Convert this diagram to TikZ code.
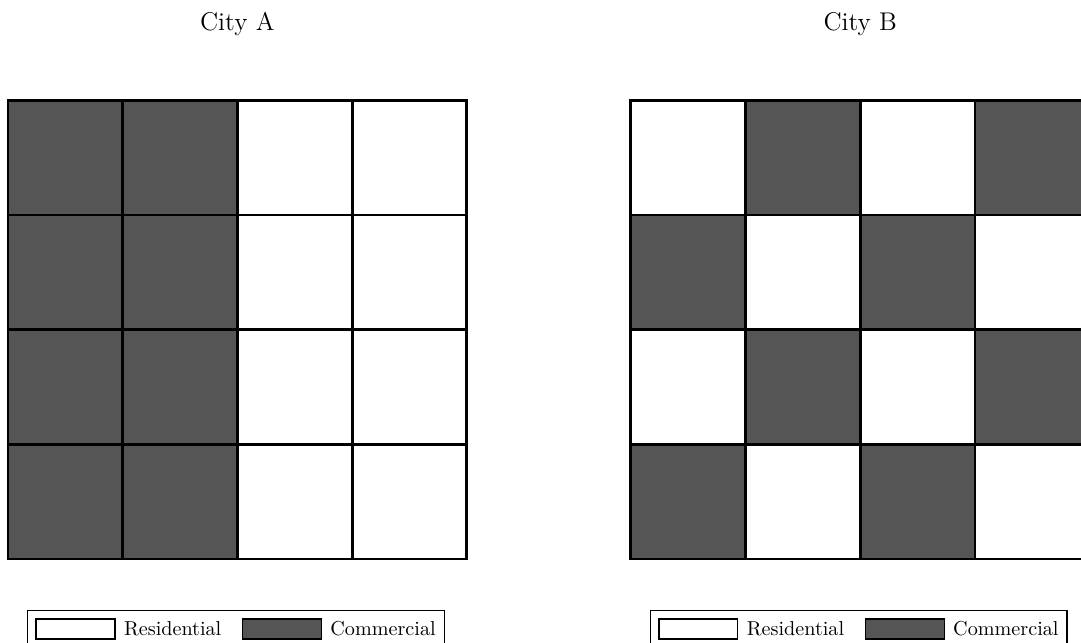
\documentclass[tikz,border=0pt]{standalone}
\usetikzlibrary{positioning,fit}

\definecolor{commgray}{RGB}{85,85,85}

\tikzset{
  cellline/.style={line width=1.4pt},
  swatch/.style={draw,line width=0.6pt,minimum width=1.377cm,
    minimum height=0.349cm,inner sep=0pt},
  legtext/.style={inner sep=0pt,font=\normalsize},
  legbox/.style={draw,line width=0.6pt,inner sep=0.14cm},
  citytitle/.style={font=\fontsize{12.7}{15}\selectfont,anchor=base}
}

\begin{document}
\begin{tikzpicture}

\useasboundingbox (0,0) rectangle (18.85,11.195);

\def\c{2}

%====================================================
% City A : commercial in the two left columns
%====================================================
\begin{scope}[shift={(0.1395,1.447)}]

% Blocks
\fill[commgray] (0,0) rectangle (2*\c,4*\c);

% Streets
\draw[cellline,step=\c] (0,0) grid (4*\c,4*\c);
\draw[cellline] (0,0) rectangle (4*\c,4*\c);

\node[citytitle] (titleA) at (2*\c,9.213) {City A};

% Legend
\node[swatch,fill=white] (resA) at (1.178,-1.22) {};
\node[legtext,right=0.14cm of resA] (restxtA) {Residential};
\node[swatch,fill=commgray,right=0.35cm of restxtA] (comA) {};
\node[legtext,right=0.14cm of comA] (comtxtA) {Commercial};
\node[legbox,fit=(resA)(comtxtA)] (legA) {};

\end{scope}

%====================================================
% City B : checkerboard
%====================================================
\begin{scope}[shift={(11.0,1.447)}]

% Blocks
\fill[commgray]
(\c,3*\c) rectangle (2*\c,4*\c)
(3*\c,3*\c) rectangle (4*\c,4*\c)
(0,2*\c) rectangle (\c,3*\c)
(2*\c,2*\c) rectangle (3*\c,3*\c)
(\c,\c) rectangle (2*\c,2*\c)
(3*\c,\c) rectangle (4*\c,2*\c)
(0,0) rectangle (\c,\c)
(2*\c,0) rectangle (3*\c,\c);

% Streets
\draw[cellline,step=\c] (0,0) grid (4*\c,4*\c);
\draw[cellline] (0,0) rectangle (4*\c,4*\c);

\node[citytitle] (titleB) at (2*\c,9.213) {City B};

% Legend
\node[swatch,fill=white] (resB) at (1.178,-1.22) {};
\node[legtext,right=0.14cm of resB] (restxtB) {Residential};
\node[swatch,fill=commgray,right=0.35cm of restxtB] (comB) {};
\node[legtext,right=0.14cm of comB] (comtxtB) {Commercial};
\node[legbox,fit=(resB)(comtxtB)] (legB) {};

\end{scope}

\end{tikzpicture}
\end{document}
